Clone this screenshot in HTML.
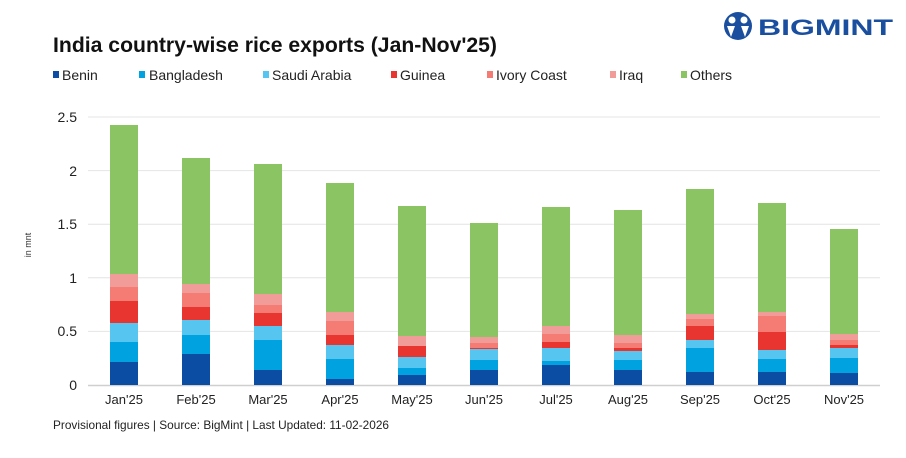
<!DOCTYPE html>
<html><head><meta charset="utf-8"><style>
body{margin:0;background:#fff;}
svg text{font-family:"Liberation Sans",sans-serif;}
</style></head><body>
<svg width="906" height="453" viewBox="0 0 906 453" xmlns="http://www.w3.org/2000/svg">
<rect width="906" height="453" fill="#fff"/>
<text x="53" y="52" font-size="21" font-weight="bold" fill="#111" textLength="444" lengthAdjust="spacingAndGlyphs">India country-wise rice exports (Jan-Nov'25)</text>
<!-- logo -->
<g>
<circle cx="738" cy="26" r="14" fill="#1a4fa0"/>
<circle cx="732" cy="20" r="3.5" fill="#fff"/><circle cx="744" cy="20" r="3.5" fill="#fff"/>
<path d="M727 26 L731 37 L735 26 Z M741 26 L745 37 L749 26 Z" fill="#fff"/>
<text x="758" y="35" font-size="22" font-weight="bold" fill="#1a4fa0" textLength="135" lengthAdjust="spacingAndGlyphs">BIGMINT</text>
</g>
<!-- legend -->
<g font-size="14" fill="#222">
<rect x="53" y="71" width="6" height="7" fill="#0a4da2"/><text x="62" y="80">Benin</text>
<rect x="139" y="71" width="6" height="7" fill="#00a3e0"/><text x="149" y="80">Bangladesh</text>
<rect x="263" y="71" width="6" height="7" fill="#56c5f0"/><text x="272" y="80">Saudi Arabia</text>
<rect x="391" y="71" width="6" height="7" fill="#e83530"/><text x="400" y="80">Guinea</text>
<rect x="487" y="71" width="6" height="7" fill="#f47c75"/><text x="496" y="80">Ivory Coast</text>
<rect x="610" y="71" width="6" height="7" fill="#f19c98"/><text x="619" y="80">Iraq</text>
<rect x="681" y="71" width="6" height="7" fill="#8bc563"/><text x="690" y="80">Others</text>
</g>
<!-- grid -->
<g stroke="#e4e4e4" stroke-width="1">
<line x1="88" y1="117" x2="880" y2="117"/><line x1="88" y1="170.6" x2="880" y2="170.6"/>
<line x1="88" y1="224.2" x2="880" y2="224.2"/><line x1="88" y1="277.8" x2="880" y2="277.8"/>
<line x1="88" y1="331.4" x2="880" y2="331.4"/>
</g>
<line x1="88" y1="385.5" x2="880" y2="385.5" stroke="#cfcfcf" stroke-width="1.5"/>
<g font-size="14" fill="#222" text-anchor="end">
<text x="77" y="122">2.5</text><text x="77" y="176">2</text><text x="77" y="229">1.5</text>
<text x="77" y="283">1</text><text x="77" y="336">0.5</text><text x="77" y="390">0</text>
</g>
<text transform="translate(31,245) rotate(-90)" font-size="9" fill="#333" text-anchor="middle">in mnt</text>
<g id="bars"></g>
<g font-size="13" fill="#222" text-anchor="middle" id="xl"></g>
<text x="53" y="429" font-size="12" fill="#222" textLength="336" lengthAdjust="spacingAndGlyphs">Provisional figures | Source: BigMint | Last Updated: 11-02-2026</text>
<script>
var cols=["#0a4da2","#00a3e0","#56c5f0","#e83530","#f47c75","#f19c98","#8bc563"];
var d=[[362,342,323,301,287,274,125],[354,335,320,307,293,284,158],[370,340,326,313,305,294,164],[379,359,345,335,321,312,183],[375,368,357,346,346,336,206],[370,360,349,348,343,337,223],[365,361,348,342,334,326,207],[370,360,351,348,343,335,210],[372,348,340,326,319,314,189],[372,359,350,332,316,312,203],[373,358,348,345,340,334,229]];
var lab=["Jan'25","Feb'25","Mar'25","Apr'25","May'25","Jun'25","Jul'25","Aug'25","Sep'25","Oct'25","Nov'25"];
var ns="http://www.w3.org/2000/svg",g=document.getElementById("bars"),xl=document.getElementById("xl");
d.forEach(function(b,i){var cx=124+i*72,prev=385;b.forEach(function(t,j){var r=document.createElementNS(ns,"rect");r.setAttribute("x",cx-14);r.setAttribute("width",28);r.setAttribute("y",t);r.setAttribute("height",Math.max(0,prev-t));r.setAttribute("fill",cols[j]);g.appendChild(r);prev=t;});
var tx=document.createElementNS(ns,"text");tx.setAttribute("x",cx);tx.setAttribute("y",404);tx.textContent=lab[i];xl.appendChild(tx);});
</script>
</svg>
</body></html>
